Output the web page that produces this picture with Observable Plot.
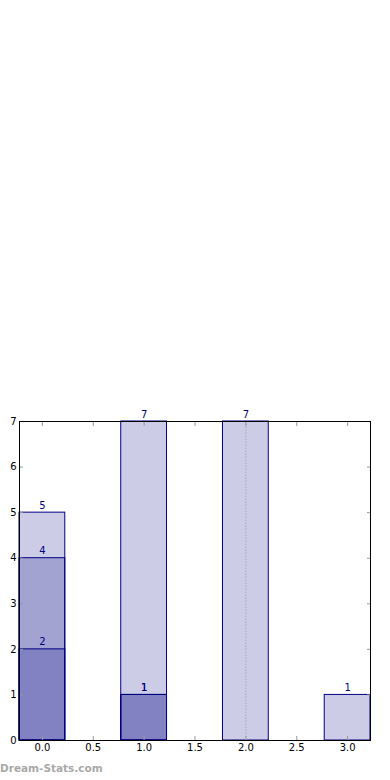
<!DOCTYPE html>
<html>
<head>
<meta charset="utf-8">
<script src="https://cdn.jsdelivr.net/npm/d3@7"></script>
<script src="https://cdn.jsdelivr.net/npm/@observablehq/plot@0.6"></script>
<style>
  html, body { margin: 0; padding: 0; background: #fff; }
  #wrap { position: relative; width: 390px; height: 780px; overflow: hidden; }
  #mark { position: absolute; left: 0; top: 762px; font: bold 10.5px "DejaVu Sans", sans-serif; color: #a9a9a9; }
</style>
</head>
<body>
<div id="wrap">
  <div id="chart"></div>
  <div id="mark">Dream-Stats.com</div>
</div>
<script>
// categories (bar centres) and the three overlaid layers
const categories = [0, 1, 2, 3];
const layerA = [5, 7, 7, 1];
const layerB = [4, 1, 0, 0];
const layerC = [2, 1, 0, 0];
const xTicks = [0, 0.5, 1, 1.5, 2, 2.5, 3];
const yTicks = [0, 1, 2, 3, 4, 5, 6, 7];
const markerX = [2];

const halfWidth = 0.225;
const layers = [layerA, layerB, layerC];
const rows = layers.flatMap((vals, li) =>
  categories.map((c, i) => ({x: c, v: vals[i], layer: li})).filter(d => d.v > 0));
const markerRows = markerX.map(x => ({x, top: layerA[categories.indexOf(x)]}));

const navy = "#000080";
const chart = Plot.plot({
  width: 390,
  height: 780,
  marginLeft: 19,
  marginRight: 20,
  marginTop: 421,
  marginBottom: 40,
  style: {fontFamily: "DejaVu Sans, sans-serif", fontSize: "10px", background: "#fff"},
  x: {domain: [-0.225, 3.225], ticks: xTicks, tickFormat: d3.format(".1f"), label: null},
  y: {domain: [0, 7], ticks: yTicks, tickFormat: d3.format("d"), label: null},
  marks: [
    Plot.rect(rows, {x1: d => d.x - halfWidth, x2: d => d.x + halfWidth, y1: 0, y2: "v",
      fill: navy, fillOpacity: 0.2, stroke: navy, strokeWidth: 1}),
    Plot.ruleX(markerRows, {x: "x", y1: 0, y2: "top", stroke: "#aaa", strokeDasharray: "1.5,1.5", strokeWidth: 1}),
    Plot.text(rows, {x: "x", y: "v", text: d => String(d.v), lineAnchor: "bottom", dy: -4,
      fill: navy, fontSize: 10}),
    // inward tick marks
    Plot.axisX({anchor: "bottom", ticks: xTicks, tickSize: 4, dy: -4, fill: "none", stroke: "#999", label: null}),
    Plot.axisX({anchor: "top", ticks: xTicks, tickSize: 4, dy: 4, fill: "none", stroke: "#999", label: null}),
    Plot.axisY({anchor: "left", ticks: yTicks, tickSize: 4, dx: 4, fill: "none", stroke: "#999", label: null}),
    Plot.axisY({anchor: "right", ticks: yTicks, tickSize: 4, dx: -4, fill: "none", stroke: "#999", label: null}),
    // labels
    Plot.axisX({anchor: "bottom", ticks: xTicks, tickFormat: d3.format(".1f"), tickSize: 0, tickPadding: 3, label: null, fill: "#000"}),
    Plot.axisY({anchor: "left", ticks: yTicks, tickFormat: d3.format("d"), tickSize: 0, tickPadding: 3, label: null, fill: "#000"}),
    Plot.frame({stroke: "#000", strokeWidth: 1})
  ]
});
document.getElementById("chart").appendChild(chart);
</script>
</body>
</html>
